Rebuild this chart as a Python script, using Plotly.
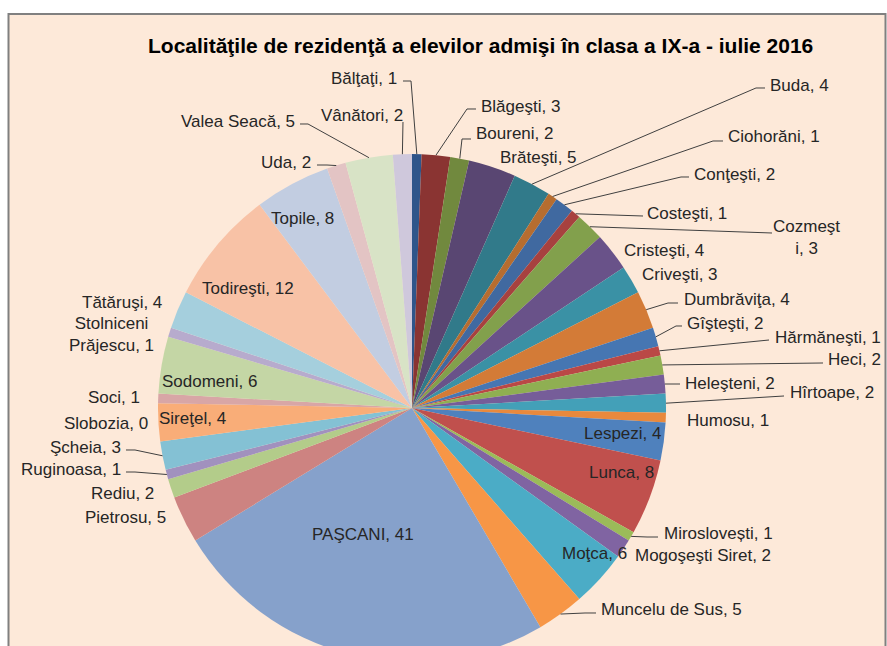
import math
import plotly.graph_objects as go

# ---------------- data ----------------
localities = [
    "Bălţaţi", "Blăgeşti", "Boureni", "Brăteşti", "Buda", "Ciohorăni",
    "Conţeşti", "Costeşti", "Cozmeşti", "Cristeşti", "Criveşti", "Dumbrăviţa",
    "Gîşteşti", "Hărmăneşti", "Heci", "Heleşteni", "Hîrtoape", "Humosu",
    "Lespezi", "Lunca", "Miroslovești", "Mogoşeşti Siret", "Moţca", "Muncelu de Sus",
    "PAŞCANI", "Pietrosu", "Rediu", "Ruginoasa", "Şcheia", "Sireţel",
    "Slobozia", "Soci", "Sodomeni", "Stolniceni Prăjescu", "Tătăruşi", "Todireşti",
    "Topile", "Uda", "Valea Seacă", "Vânători",
]
students = [
    1, 3, 2, 5, 4, 1,
    2, 1, 3, 4, 3, 4,
    2, 1, 2, 2, 2, 1,
    4, 8, 1, 2, 6, 5,
    41, 5, 2, 1, 3, 4,
    0, 1, 6, 1, 4, 12,
    8, 2, 5, 2,
]
title_text = "Localităţile de rezidenţă a elevilor admişi în clasa a IX-a - iulie 2016"

# ---------------- styles ----------------
slice_colors = [
    "#2F558A", "#8A3432", "#71893E", "#594672", "#317A8A", "#B66D30",
    "#4069A0", "#A7413F", "#82A04C", "#695289", "#3A91A5", "#D37B37",
    "#4676B2", "#BA4846", "#8FAF52", "#765D99", "#43A0B8", "#E8893D",
    "#4F81BD", "#C0504D", "#9BBB59", "#8064A2", "#4BACC6", "#F79646",
    "#86A1CB", "#CD8381", "#B3CC8A", "#A191BE", "#84C1D4", "#F9AD78",
    "#A5B9D9", "#D8A6A6", "#C4D6A5", "#B7ABCD", "#A5CFDD", "#F8C2A6",
    "#C2CDE1", "#E3C4C4", "#D8E3C6", "#CFC8DC",
]
BG = "#FDE9D9"
TEXT = "#262626"
FONT = "Liberation Sans, Arial, sans-serif"
LABEL_SIZE = 17
TITLE_SIZE = 21

W, H = 887, 680
CX, CY, R = 412, 408, 254


def px(x):
    return x / W


def py(y):
    return 1 - y / H


# label placement (pixels): name -> (x, y, xanchor, leader points from text side, custom text)
label_layout = {
    "Bălţaţi": (399, 78, "right", [(403, 81), (411, 81)], None),
    "Vânători": (405, 115, "right", [(403, 122)], None),
    "Valea Seacă": (297, 121, "right", [(300, 124), (308, 124)], None),
    "Uda": (313, 162, "right", [(317, 165), (327, 165)], None),
    "Topile": (302, 219, "center", None, None),
    "Todireşti": (248, 288, "center", None, None),
    "Tătăruşi": (164, 302, "right", None, None),
    "Stolniceni Prăjescu": (111, 334, "center", None, "Stolniceni<br>Prăjescu, 1"),
    "Sodomeni": (209, 381, "center", None, None),
    "Soci": (142, 397, "right", None, None),
    "Slobozia": (150, 423, "right", None, None),
    "Sireţel": (192, 418, "center", None, None),
    "Şcheia": (123, 447, "right", [(126, 450), (135, 450)], None),
    "Ruginoasa": (123, 469, "right", [(126, 472), (135, 472)], None),
    "Rediu": (156, 493, "right", None, None),
    "Pietrosu": (168, 517, "right", None, None),
    "PAŞCANI": (363, 534, "center", None, None),
    "Muncelu de Sus": (599, 609, "left", [(596, 613), (585, 613)], None),
    "Moţca": (594, 553, "center", None, None),
    "Mogoşeşti Siret": (633, 555, "left", None, None),
    "Miroslovești": (662, 533, "left", [(658, 537), (647, 537)], None),
    "Lunca": (621, 472, "center", None, None),
    "Lespezi": (623, 433, "center", None, None),
    "Humosu": (685, 420, "left", None, None),
    "Hîrtoape": (788, 393, "left", [(784, 396)], None),
    "Heleşteni": (683, 383, "left", [(680, 384)], None),
    "Heci": (826, 359, "left", [(823, 363)], None),
    "Hărmăneşti": (773, 337, "left", [(769, 340)], None),
    "Gîşteşti": (685, 323, "left", [(682, 326), (676, 326)], None),
    "Dumbrăviţa": (682, 299, "left", [(678, 303), (668, 303)], None),
    "Criveşti": (640, 274, "left", None, None),
    "Cristeşti": (622, 250, "left", None, None),
    "Cozmeşti": (806, 238, "center", [(772, 233)], "Cozmeşt<br>i, 3"),
    "Costeşti": (645, 213, "left", [(643, 216)], None),
    "Conţeşti": (692, 174, "left", [(689, 177), (681, 177)], None),
    "Ciohorăni": (726, 137, "left", [(723, 141), (713, 141)], None),
    "Buda": (768, 85, "left", [(765, 88), (756, 88)], None),
    "Brăteşti": (498, 157, "left", None, None),
    "Boureni": (474, 134, "left", [(471, 139), (462, 139)], None),
    "Blăgeşti": (479, 106, "left", [(476, 109), (467, 109)], None),
}

fig = go.Figure(
    go.Pie(
        labels=localities,
        values=students,
        sort=False,
        direction="clockwise",
        rotation=0,
        marker=dict(colors=slice_colors, line=dict(width=0)),
        textinfo="none",
        hoverinfo="label+value",
        showlegend=False,
        domain=dict(x=[px(CX - R), px(CX + R)], y=[py(CY + R), py(CY - R)]),
    )
)

total = sum(students)
cum = 0
shapes = [
    dict(type="rect", xref="paper", yref="paper", x0=px(8.5), x1=px(885.5),
         y0=py(H + 10), y1=py(14), fillcolor=BG, line=dict(color="#808080", width=2),
         layer="below"),
]
annotations = [
    dict(text="<b>" + title_text + "</b>", x=px(480), y=py(46), xref="paper", yref="paper",
         xanchor="center", yanchor="middle", showarrow=False,
         font=dict(family=FONT, size=TITLE_SIZE, color="#000000")),
]
for name, val in zip(localities, students):
    mid = (cum + val / 2) / total * 2 * math.pi
    cum += val
    ex = CX + R * math.sin(mid)
    ey = CY - R * math.cos(mid)
    lx, ly, anchor, leader, custom = label_layout[name]
    text = custom if custom else f"{name}, {val}"
    annotations.append(dict(
        text=text, x=px(lx), y=py(ly), xref="paper", yref="paper",
        xanchor=anchor, yanchor="middle", showarrow=False, align="center",
        font=dict(family=FONT, size=LABEL_SIZE, color=TEXT),
    ))
    if leader:
        pts = leader + [(ex, ey)]
        path = "M " + " L ".join(f"{px(a):.5f},{py(b):.5f}" for a, b in pts)
        shapes.append(dict(type="path", xref="paper", yref="paper", path=path,
                           line=dict(color="#404040", width=1)))

fig.update_layout(
    width=W, height=H,
    margin=dict(l=0, r=0, t=0, b=0),
    paper_bgcolor="#FFFFFF",
    plot_bgcolor="#FFFFFF",
    shapes=shapes,
    annotations=annotations,
)

fig.write_html(
    "out.html",
    config={"displayModeBar": False},
    post_script="document.body.style.margin='0';document.body.style.overflow='hidden';",
)
